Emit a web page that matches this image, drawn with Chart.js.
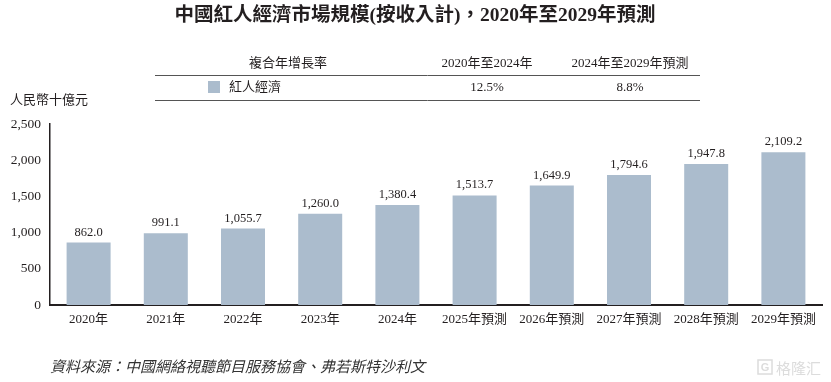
<!DOCTYPE html>
<html>
<head>
<meta charset="utf-8">
<script src="https://cdn.jsdelivr.net/npm/chart.js@4/dist/chart.umd.min.js"></script>
<style>
  html, body { margin: 0; padding: 0; background: #fff; }
  #wrap { width: 831px; height: 382px; position: relative; }
</style>
</head>
<body>
<div id="wrap"><canvas id="marketChart" width="831" height="382"></canvas></div>
<script>
const years = ['2020年', '2021年', '2022年', '2023年', '2024年', '2025年預測', '2026年預測', '2027年預測', '2028年預測', '2029年預測'];
const marketSize = [862.0, 991.1, 1055.7, 1260.0, 1380.4, 1513.7, 1649.9, 1794.6, 1947.8, 2109.2];
const yTicks = [0, 500, 1000, 1500, 2000, 2500];
const cagrHeaders = ['複合年增長率', '2020年至2024年', '2024年至2029年預測'];
const cagrRow = ['紅人經濟', '12.5%', '8.8%'];

const serif = '"Liberation Serif", "Times New Roman", "Noto Sans CJK TC", serif';
const barColor = '#abbccd';
const textColor = '#231f20';

const fmt = v => v.toLocaleString('en-US', { minimumFractionDigits: 1, maximumFractionDigits: 1 });

// value labels above bars
const valueLabels = {
    id: 'valueLabels',
    afterDatasetsDraw(chart) {
        const ctx = chart.ctx;
        const meta = chart.getDatasetMeta(0);
        ctx.save();
        ctx.fillStyle = textColor;
        ctx.font = '12.5px ' + serif;
        ctx.textAlign = 'center';
        ctx.textBaseline = 'bottom';
        meta.data.forEach((bar, i) => {
            ctx.fillText(fmt(marketSize[i]), bar.x, bar.y - 4);
        });
        ctx.restore();
    }
};

// title, CAGR table, unit and source note
const decorations = {
    id: 'decorations',
    afterDraw(chart) {
        const ctx = chart.ctx;
        ctx.save();
        ctx.fillStyle = textColor;
        ctx.textBaseline = 'middle';

        ctx.font = 'bold 19.5px ' + serif;
        ctx.textAlign = 'center';
        ctx.fillText('中國紅人經濟市場規模(按收入計)，2020年至2029年預測', 415, 16);

        ctx.strokeStyle = '#555';
        ctx.lineWidth = 1;
        ctx.beginPath();
        ctx.moveTo(155, 75.5); ctx.lineTo(700, 75.5);
        ctx.moveTo(155, 100.5); ctx.lineTo(700, 100.5);
        ctx.stroke();

        ctx.font = '13px ' + serif;
        const cols = [288, 487, 630];
        cagrHeaders.forEach((t, i) => ctx.fillText(t, cols[i], 64));
        ctx.fillStyle = barColor;
        ctx.fillRect(208, 81, 12, 12);
        ctx.fillStyle = textColor;
        ctx.textAlign = 'left';
        ctx.fillText(cagrRow[0], 229, 88);
        ctx.textAlign = 'center';
        ctx.fillText(cagrRow[1], cols[1], 88);
        ctx.fillText(cagrRow[2], cols[2], 88);

        ctx.textAlign = 'left';
        ctx.fillText('人民幣十億元', 10, 101);

        ctx.font = 'italic 15px ' + serif;
        ctx.fillStyle = '#333';
        ctx.fillText('資料來源：中國網絡視聽節目服務協會、弗若斯特沙利文', 50, 368);

        // faint watermark
        ctx.strokeStyle = '#dcdcdc';
        ctx.lineWidth = 1.5;
        ctx.strokeRect(758, 360, 14, 14);
        ctx.font = 'bold 11px sans-serif';
        ctx.fillStyle = '#dcdcdc';
        ctx.textAlign = 'center';
        ctx.fillText('G', 765, 368);
        ctx.font = '15px "Noto Sans CJK SC", sans-serif';
        ctx.textAlign = 'left';
        ctx.fillText('格隆汇', 776, 368);
        ctx.restore();
    }
};

new Chart(document.getElementById('marketChart'), {
    type: 'bar',
    data: {
        labels: years,
        datasets: [{
            data: marketSize,
            backgroundColor: barColor,
            categoryPercentage: 1,
            barPercentage: 0.57
        }]
    },
    options: {
        responsive: false,
        animation: false,
        layout: { padding: { top: 124, right: 9, bottom: 48, left: 0 } },
        plugins: { legend: { display: false }, tooltip: { enabled: false } },
        scales: {
            x: {
                grid: { display: false, drawTicks: false },
                border: { color: '#231f20', width: 2 },
                ticks: { color: textColor, font: { family: serif, size: 13 }, padding: 7, maxRotation: 0, autoSkip: false },
                afterFit(scale) { scale.height = 29; }
            },
            y: {
                min: 0,
                max: 2500,
                afterBuildTicks(scale) { scale.ticks = yTicks.map(v => ({ value: v })); },
                grid: { display: false, drawTicks: true, tickLength: 5, tickColor: '#231f20' },
                border: { color: '#231f20', width: 1.5 },
                ticks: {
                    color: textColor,
                    font: { family: serif, size: 13.5 },
                    padding: 4,
                    callback: v => v.toLocaleString('en-US')
                },
                afterFit(scale) { scale.width = 50; }
            }
        }
    },
    plugins: [valueLabels, decorations]
});
</script>
</body>
</html>
